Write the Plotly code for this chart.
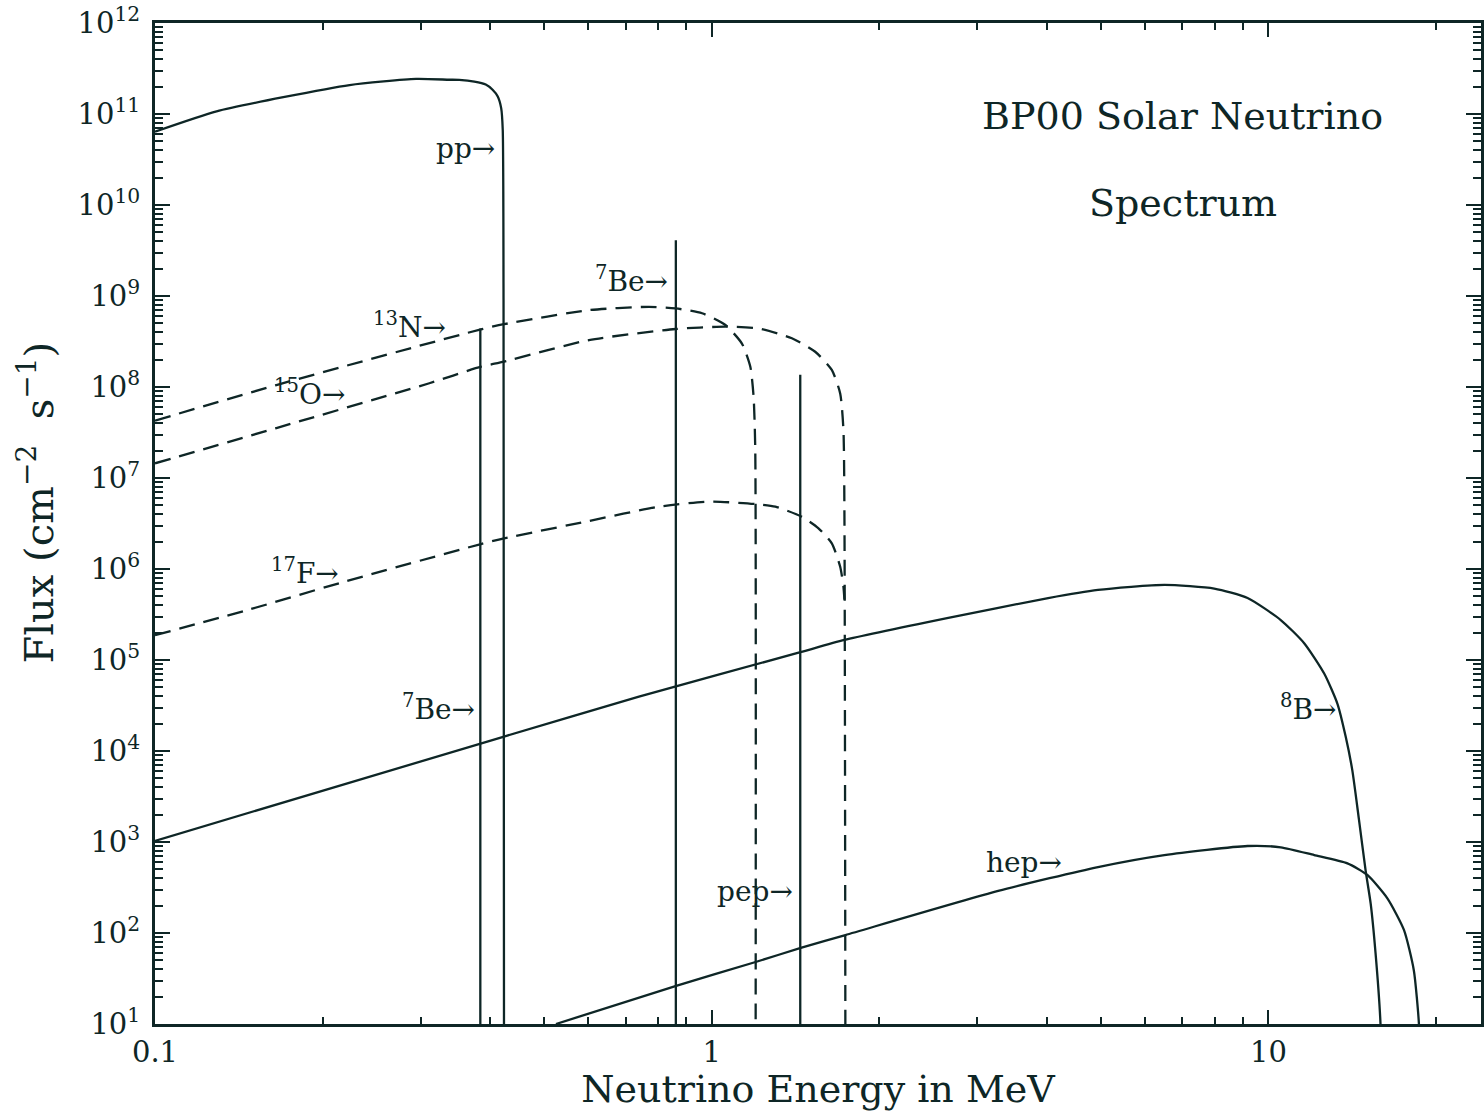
import math
import plotly.graph_objects as go

# ---------------- data ----------------
pp_E = [0.100, 0.129, 0.170, 0.2236, 0.2944, 0.3378, 0.352, 0.3746, 0.3927, 0.4040, 0.4127, 0.4186, 0.4213, 0.4227, 0.4235]
pp_F = [6.4e10, 1.07e11, 1.53e11, 2.08e11, 2.43e11, 2.38e11, 2.37e11, 2.27e11, 2.11e11, 1.85e11, 1.56e11, 1.16e11, 6.7e10, 9e8, 5]

n13_E = [0.100, 0.1652, 0.385, 0.4236, 0.602, 0.771, 0.861, 0.961, 1.058, 1.133, 1.173, 1.189, 1.197, 1.199]
n13_F = [4.27e7, 1.05e8, 4.3e8, 4.9e8, 7.0e8, 7.6e8, 7.3e8, 6.46e8, 4.8e8, 3.0e8, 1.67e8, 7.8e7, 2.2e7, 5]

o15_E = [0.100, 0.1652, 0.311, 0.385, 0.4236, 0.602, 0.861, 1.058, 1.214, 1.393, 1.534, 1.643, 1.701, 1.724, 1.731, 1.738]
o15_F = [1.45e7, 3.54e7, 1.10e8, 1.67e8, 1.90e8, 3.28e8, 4.34e8, 4.6e8, 4.4e8, 3.43e8, 2.44e8, 1.54e8, 8.5e7, 3.37e7, 4.1e6, 5]

f17_E = [0.100, 0.148, 0.2145, 0.385, 0.4236, 0.602, 0.804, 0.988, 1.197, 1.301, 1.451, 1.555, 1.643, 1.701, 1.724, 1.731]
f17_F = [1.87e5, 3.6e5, 7.0e5, 1.88e6, 2.17e6, 3.37e6, 4.84e6, 5.5e6, 5.18e6, 4.84e6, 3.76e6, 2.8e6, 1.91e6, 1.06e6, 6.4e5, 4.6e5]

b8_E = [0.100, 0.4236, 0.740, 1.443, 1.731, 2.66, 4.02, 4.94, 6.50, 7.99, 9.17, 10.52, 11.59, 12.59,
        13.30, 13.76, 14.14, 14.54, 14.94, 15.26, 15.57, 15.89, 15.92]
b8_F = [1.03e3, 1.44e4, 3.95e4, 1.22e5, 1.66e5, 2.9e5, 4.8e5, 5.9e5, 6.7e5, 6.1e5, 4.8e5, 2.75e5, 1.53e5, 7.1e4,
        3.3e4, 1.44e4, 6.2e3, 1.75e3, 4.9e2, 2.1e2, 60, 10.2, 5]

hep_E = [0.525, 0.866, 1.199, 1.450, 1.738, 3.27, 4.94, 6.50, 9.17, 10.52, 12.08, 13.86, 15.05, 16.35, 17.51, 18.24, 18.63, 18.66]
hep_F = [10, 26.4, 48, 69, 95, 290, 531, 719, 904, 875, 719, 583, 434, 240, 108, 39, 10, 5]

# line sources: energy and top flux
line_E = [0.384, 0.862, 1.442]
line_F = [4.4e8, 4.1e9, 1.36e8]
line_floor = 10

# labels: text, energy of right end, flux
label_text = ["pp→", "<sup>7</sup>Be→", "<sup>13</sup>N→", "<sup>15</sup>O→", "<sup>17</sup>F→",
              "<sup>7</sup>Be→", "pep→", "hep→", "<sup>8</sup>B→"]
label_E = [0.412, 0.840, 0.336, 0.221, 0.216, 0.378, 1.410, 4.30, 13.40]
label_F = [4.2e10, 1.5e9, 4.8e8, 8.6e7, 9.3e5, 2.97e4, 2.83e2, 6.0e2, 2.97e4]

title_lines = ["BP00 Solar Neutrino", "Spectrum"]
title_E = 7.01
title_F = [9.5e10, 1.05e10]

ytick_vals = [10 ** k for k in range(1, 13)]
ytick_text = ["10<sup>%d</sup>" % k for k in range(1, 13)]
xtick_vals = [0.1, 1, 10]
xtick_text = ["0.1", "1", "10"]

# ---------------- figure ----------------
INK = "#0e2626"
FONT = "DejaVu Serif"
fig = go.Figure()

solid = dict(color=INK, width=2.3, shape="spline", smoothing=0.6)
dashed = dict(color=INK, width=2.3, dash="16px,9px", shape="spline", smoothing=0.6)
straight = dict(color=INK, width=2.3)

fig.add_trace(go.Scatter(x=pp_E, y=pp_F, mode="lines", line=solid))
fig.add_trace(go.Scatter(x=b8_E, y=b8_F, mode="lines", line=solid))
fig.add_trace(go.Scatter(x=hep_E, y=hep_F, mode="lines", line=solid))
fig.add_trace(go.Scatter(x=n13_E, y=n13_F, mode="lines", line=dashed))
fig.add_trace(go.Scatter(x=o15_E, y=o15_F, mode="lines", line=dashed))
fig.add_trace(go.Scatter(x=f17_E, y=f17_F, mode="lines", line=dashed))
for e, f in zip(line_E, line_F):
    fig.add_trace(go.Scatter(x=[e, e], y=[f, line_floor], mode="lines", line=straight))

for t, e, f in zip(label_text, label_E, label_F):
    fig.add_annotation(x=math.log10(e), y=math.log10(f), xref="x", yref="y", text=t, showarrow=False,
                       xanchor="right", yanchor="middle",
                       font=dict(family=FONT, size=28, color=INK))
for t, f in zip(title_lines, title_F):
    fig.add_annotation(x=math.log10(title_E), y=math.log10(f), xref="x", yref="y", text=t, showarrow=False,
                       xanchor="center", yanchor="middle",
                       font=dict(family=FONT, size=38, color=INK))

# y-axis title as a rotated annotation (placed left of the tick labels)
fig.add_annotation(x=-0.089, y=0.521, xref="paper", yref="paper", textangle=-90,
                   text="Flux (cm<sup>−2</sup>&nbsp; s<sup>−1</sup>)", showarrow=False,
                   xanchor="center", yanchor="middle",
                   font=dict(family=FONT, size=40, color=INK))

axis_common = dict(
    showgrid=False, zeroline=False, showline=True, linecolor=INK, linewidth=3,
    mirror="allticks", ticks="inside", tickcolor=INK, tickwidth=2,
    tickfont=dict(family=FONT, size=29, color=INK),
)
fig.update_xaxes(type="log", range=[-1, 1.3817], tickvals=xtick_vals, ticktext=xtick_text, ticklen=14,
                 minor=dict(ticks="inside", ticklen=7, tickcolor=INK, tickwidth=2, dtick="D1"),
                 title=dict(text="Neutrino Energy in MeV", font=dict(family=FONT, size=38, color=INK), standoff=4),
                 **axis_common)
fig.update_yaxes(type="log", range=[1, 12], tickvals=ytick_vals, ticktext=ytick_text, ticklen=15,
                 ticklabelstandoff=6,
                 minor=dict(ticks="inside", ticklen=8, tickcolor=INK, tickwidth=2, dtick="D1"),
                 **axis_common)
fig.update_layout(width=1484, height=1111, margin=dict(l=155, r=0, t=23, b=87),
                  paper_bgcolor="white", plot_bgcolor="white", showlegend=False)
fig.write_html("out.html")
